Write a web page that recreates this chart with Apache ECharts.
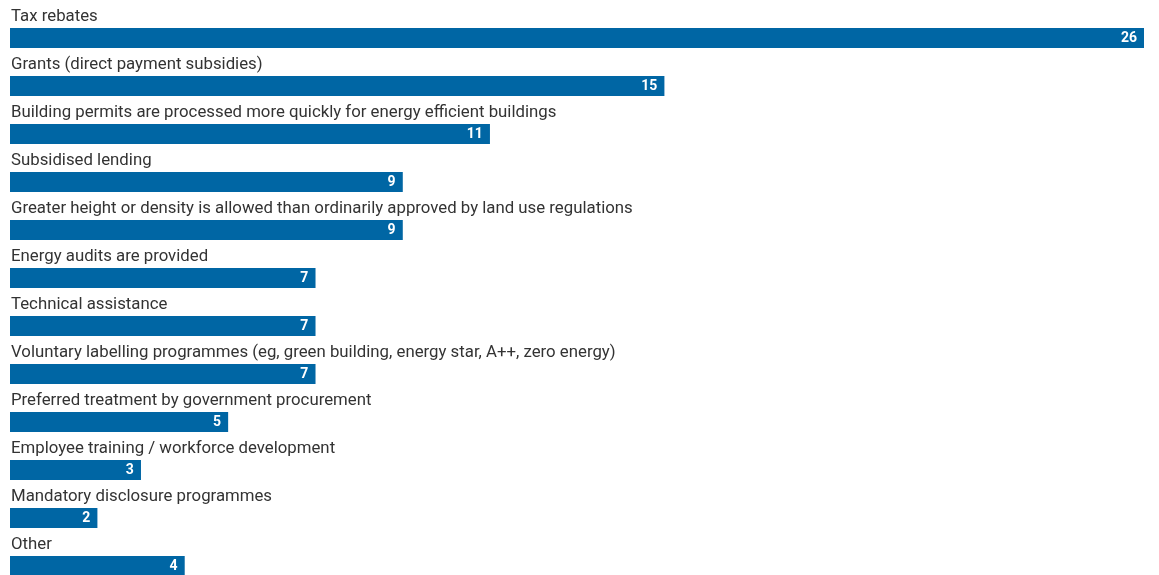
<!DOCTYPE html>
<html>
<head>
<meta charset="utf-8">
<script src="https://cdn.jsdelivr.net/npm/echarts@6/dist/echarts.min.js"></script>
<style>
  html, body { margin: 0; padding: 0; background: #fff; overflow: hidden; }
  #chart { width: 1159px; height: 600px; }
</style>
</head>
<body>
<div id="chart"></div>
<script>
// Incentive types, listed top to bottom
const categories = [
  'Tax rebates',
  'Grants (direct payment subsidies)',
  'Building permits are processed more quickly for energy efficient buildings',
  'Subsidised lending',
  'Greater height or density is allowed than ordinarily approved by land use regulations',
  'Energy audits are provided',
  'Technical assistance',
  'Voluntary labelling programmes (eg, green building, energy star, A++, zero energy)',
  'Preferred treatment by government procurement',
  'Employee training / workforce development',
  'Mandatory disclosure programmes',
  'Other'
];
// Number of responses for each incentive
const counts = [26, 15, 11, 9, 9, 7, 7, 7, 5, 3, 2, 4];

const barColor = '#0066a4';
const fontFamily = 'Roboto, "Noto Sans", sans-serif';

const chart = echarts.init(document.getElementById('chart'));
chart.setOption({
  animation: false,
  grid: { left: 10, right: 15, top: 14, bottom: 10 },
  xAxis: {
    type: 'value', min: 0, max: 26,
    show: false
  },
  yAxis: {
    type: 'category', data: categories, inverse: true,
    show: false
  },
  series: [
    {
      // bars carrying the category name above each bar
      type: 'bar',
      data: counts,
      barWidth: 20,
      itemStyle: { color: barColor },
      label: {
        show: true,
        position: [1, -11],
        verticalAlign: 'middle',
        align: 'left',
        formatter: p => p.name,
        color: '#333',
        fontFamily: fontFamily,
        fontSize: 16.8
      }
    },
    {
      // the same bars again, carrying the count at the bar end
      type: 'bar',
      data: counts,
      barWidth: 20,
      barGap: '-100%',
      itemStyle: { color: barColor },
      label: {
        show: true,
        position: 'insideRight',
        distance: 7,
        color: '#fff',
        fontWeight: 'bold',
        fontFamily: fontFamily,
        fontSize: 14
      }
    }
  ]
});
</script>
</body>
</html>
